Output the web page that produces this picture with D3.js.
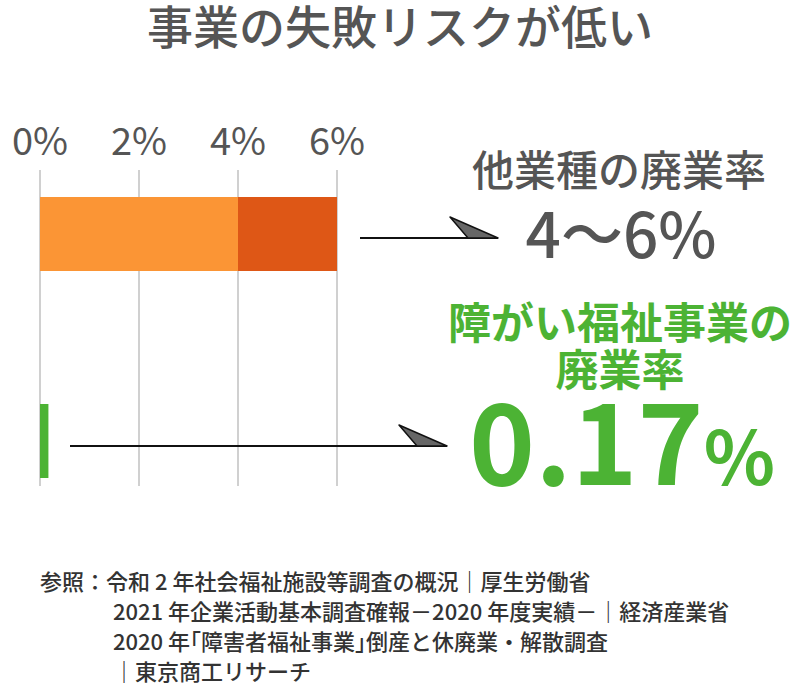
<!DOCTYPE html>
<html><head><meta charset="utf-8">
<script src="https://cdn.jsdelivr.net/npm/d3@7"></script>
<style>body{margin:0;background:#fff}text{font-family:"Noto Sans CJK JP","Noto Sans",sans-serif}</style>
</head><body><svg id="chart" width="812" height="692"></svg>
<script>
const ticks = [0, 2, 4, 6];
const otherRange = [4, 6];
const welfareRate = 0.17;
const notes = [
  "参照：令和 2 年社会福祉施設等調査の概況｜厚生労働省",
  "2021 年企業活動基本調査確報－2020 年度実績－｜経済産業省",
  "2020 年｢障害者福祉事業｣倒産と休廃業・解散調査",
  "｜東京商工リサーチ"
];

const svg = d3.select("#chart");
const x = d3.scaleLinear().domain([0, 6]).range([40, 337]);
const y = d3.scaleBand().domain(["other", "welfare"]).range([197, 478]).paddingInner(0.6425).paddingOuter(0);

svg.append("text").attr("x", 400).attr("y", 44).attr("text-anchor", "middle")
  .attr("font-size", 46).attr("font-weight", 500).attr("fill", "#555").text("事業の失敗リスクが低い");

// grid + tick labels
svg.selectAll(".grid").data(ticks).enter().append("line")
  .attr("x1", d => x(d)).attr("x2", d => x(d)).attr("y1", 170).attr("y2", 486)
  .attr("stroke", "#d0d0d0").attr("stroke-width", 2);
svg.selectAll(".tick").data(ticks).enter().append("text")
  .attr("x", d => x(d)).attr("y", 155).attr("text-anchor", "middle")
  .attr("font-family", "Liberation Sans").attr("font-size", 38).attr("fill", "#555")
  .text(d => d + "%");

// bars
svg.append("rect").attr("x", x(0)).attr("width", x(otherRange[0]) - x(0))
  .attr("y", y("other")).attr("height", y.bandwidth()).attr("fill", "#fb9535");
svg.append("rect").attr("x", x(otherRange[0])).attr("width", x(otherRange[1]) - x(otherRange[0]))
  .attr("y", y("other")).attr("height", y.bandwidth()).attr("fill", "#de5716");
svg.append("rect").attr("x", x(0)).attr("width", x(welfareRate) - x(0))
  .attr("y", y("welfare")).attr("height", y.bandwidth()).attr("fill", "#4cb334");

// arrows
function arrow(x1, x2, yy) {
  svg.append("line").attr("x1", x1).attr("x2", x2).attr("y1", yy).attr("y2", yy)
    .attr("stroke", "#111").attr("stroke-width", 2);
  svg.append("path").attr("d", `M${x2},${yy} L${x2 - 48},${yy - 21} L${x2 - 30},${yy} Z`)
    .attr("fill", "#666").attr("stroke", "#111").attr("stroke-width", 1.5).attr("stroke-linejoin", "round");
}
arrow(360, 498, y("other") + y.bandwidth() / 2 + 4);
arrow(70, 447, y("welfare") + y.bandwidth() / 2 + 5);

const g = svg.append("g").attr("text-anchor", "middle");
g.append("text").attr("x", 619).attr("y", 186).attr("font-size", 42).attr("font-weight", 500).attr("fill", "#555").text("他業種の廃業率");
g.append("text").attr("x", 621).attr("y", 258).attr("font-size", 62).attr("font-weight", 500).attr("font-family", "Liberation Sans").attr("fill", "#555").text("4〜6%");
g.append("text").attr("x", 620).attr("y", 339).attr("font-size", 43).attr("font-weight", "bold").attr("fill", "#4cb334").text("障がい福祉事業の");
g.append("text").attr("x", 620).attr("y", 386).attr("font-size", 43).attr("font-weight", "bold").attr("fill", "#4cb334").text("廃業率");
const big = g.append("text").attr("x", 622).attr("y", 485).attr("fill", "#4cb334").attr("font-weight", "bold")
  .attr("font-family", "Liberation Sans");
big.append("tspan").attr("font-size", 112).text("0.17");
big.append("tspan").attr("font-size", 74).text("%");

svg.selectAll(".note").data(notes).enter().append("text")
  .attr("x", (d, i) => i === 0 ? 40 : 113).attr("y", (d, i) => 590 + i * 30)
  .attr("font-size", 22).attr("font-weight", 500).attr("fill", "#333").text(d => d);
</script></body></html>
